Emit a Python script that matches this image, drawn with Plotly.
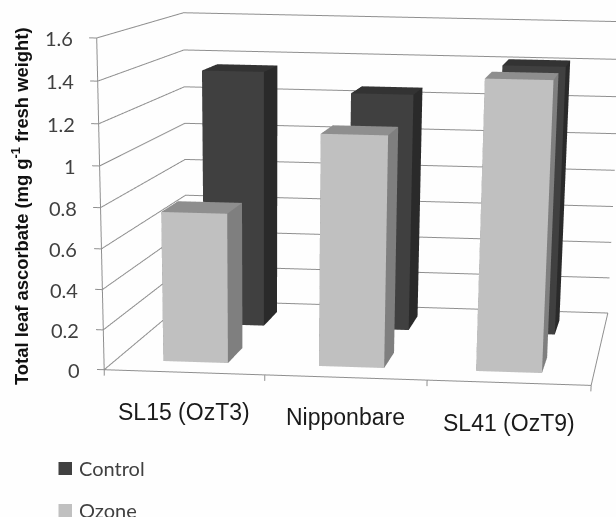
import plotly.graph_objects as go

# Chart data
categories = ["SL15 (OzT3)", "Nipponbare", "SL41 (OzT9)"]
control = [1.35, 1.25, 1.41]
ozone = [0.75, 1.15, 1.43]
z_ticks = [0, 0.2, 0.4, 0.6, 0.8, 1, 1.2, 1.4, 1.6]

# Tall canvas: a long lens needs a large scene, and only its upper part is shown
WIDTH, HEIGHT = 715, 2400
GRID = "#8f8f8f"
BAR_LEFT = [0.30, 1.285, 2.27]
BAR_WIDTH = 0.41
ROWS = {"ozone": (0.13, 0.33), "control": (0.65, 0.86)}
COLOURS = {
    "ozone": dict(front="#c0c0c0", side="#7f7f7f", top="#8e8e8e"),
    "control": dict(front="#404040", side="#2a2a2a", top="#333333"),
}


def column(x0, x1, y0, y1, height, shades, name):
    xs = [x0, x1, x1, x0, x0, x1, x1, x0]
    ys = [y0, y0, y1, y1, y0, y0, y1, y1]
    zs = [0, 0, 0, 0, height, height, height, height]
    faces = [
        (0, 1, 5, "front"), (0, 5, 4, "front"),
        (1, 2, 6, "side"), (1, 6, 5, "side"),
        (4, 5, 6, "top"), (4, 6, 7, "top"),
        (3, 0, 4, "side"), (3, 4, 7, "side"),
        (2, 3, 7, "side"), (2, 7, 6, "side"),
    ]
    return go.Mesh3d(
        x=xs, y=ys, z=zs,
        i=[f[0] for f in faces], j=[f[1] for f in faces], k=[f[2] for f in faces],
        facecolor=[shades[f[3]] for f in faces],
        flatshading=True,
        lighting=dict(ambient=1, diffuse=0, specular=0, roughness=1, fresnel=0),
        hoverinfo="skip", name=name,
    )


def segments(pairs):
    xs, ys, zs = [], [], []
    for path in pairs:
        for x, y, z in path:
            xs.append(x); ys.append(y); zs.append(z)
        xs.append(None); ys.append(None); zs.append(None)
    return go.Scatter3d(x=xs, y=ys, z=zs, mode="lines",
                        line=dict(color=GRID, width=2), hoverinfo="skip")


paths = []
for v in z_ticks:
    paths.append([(-0.045, 0, v), (0, 0, v), (0, 1, v), (3, 1, v)])
paths.append([(0, 0, 0), (0, 0, 1.6)])
paths.append([(0, 0, 0), (3, 0, 0), (3, 1, 0)])
for c in range(4):
    paths.append([(c, 0, 0), (c, 0, -0.03)])

fig = go.Figure()
fig.add_trace(segments(paths))
for series, values in (("control", control), ("ozone", ozone)):
    y0, y1 = ROWS[series]
    for left, value in zip(BAR_LEFT, values):
        fig.add_trace(column(left, left + BAR_WIDTH, y0, y1, value, COLOURS[series], series))


def px(x):
    return x / WIDTH


def py(y):
    return 1 - y / HEIGHT


tick_font = dict(family="Lato", size=20, color="#404040")
scene_notes = [
    dict(x=0, y=0, z=v, text=str(v), showarrow=False, xanchor="right", yanchor="middle",
         xshift=-22, font=tick_font)
    for v in z_ticks
]
cat_font = dict(family="Liberation Sans", size=23, color="#1a1a1a")
for i, cat in enumerate(categories):
    scene_notes.append(dict(x=i + 0.5, y=0, z=0, text=cat, showarrow=False, xanchor="center",
                            yanchor="middle", yshift=-40, font=cat_font))

paper_notes = [
    dict(x=px(20), y=py(206), xref="paper", yref="paper", showarrow=False, textangle=-90,
         xanchor="center", yanchor="middle",
         text="Total leaf ascorbate (mg g<sup>-1</sup> fresh weight)",
         font=dict(family="Liberation Sans", size=18.4, color="#111111", weight="bold")),
    dict(x=px(77), y=py(468), xref="paper", yref="paper", showarrow=False, xanchor="left",
         yanchor="middle", text="Control", font=tick_font),
    dict(x=px(77), y=py(510), xref="paper", yref="paper", showarrow=False, xanchor="left",
         yanchor="middle", text="Ozone", font=tick_font),
]
squares = [
    dict(type="rect", xref="paper", yref="paper", x0=px(58.5), x1=px(72), y0=py(462), y1=py(475),
         fillcolor="#404040", line_width=0),
    dict(type="rect", xref="paper", yref="paper", x0=px(58.5), x1=px(72), y0=py(504), y1=py(517),
         fillcolor="#c0c0c0", line_width=0),
]

fig.update_layout(
    width=WIDTH, height=HEIGHT, margin=dict(l=0, r=0, t=0, b=0), showlegend=False,
    paper_bgcolor="#fefefe", annotations=paper_notes, shapes=squares,
    scene=dict(
        domain=dict(x=[0, 1], y=[0, 1]),
        dragmode="orbit",  # keeps the slight camera roll that turntable mode would snap away
        camera=dict(eye=dict(x=1.046, y=-9.9512, z=0.9978),
                    center=dict(x=0.3621, y=-3.427, z=-2.0506),
                    up=dict(x=-0.0137, y=0, z=1)),
        aspectmode="manual",
        aspectratio=dict(x=1.5606, y=1.6376, z=1),
        xaxis=dict(visible=False, range=[-0.06, 3.02]),
        yaxis=dict(visible=False, range=[-0.02, 1.02]),
        zaxis=dict(visible=False, range=[-0.04, 1.62]),
        annotations=scene_notes,
    ),
)
fig.write_html("out.html", post_script="document.body.style.overflow='hidden';")
